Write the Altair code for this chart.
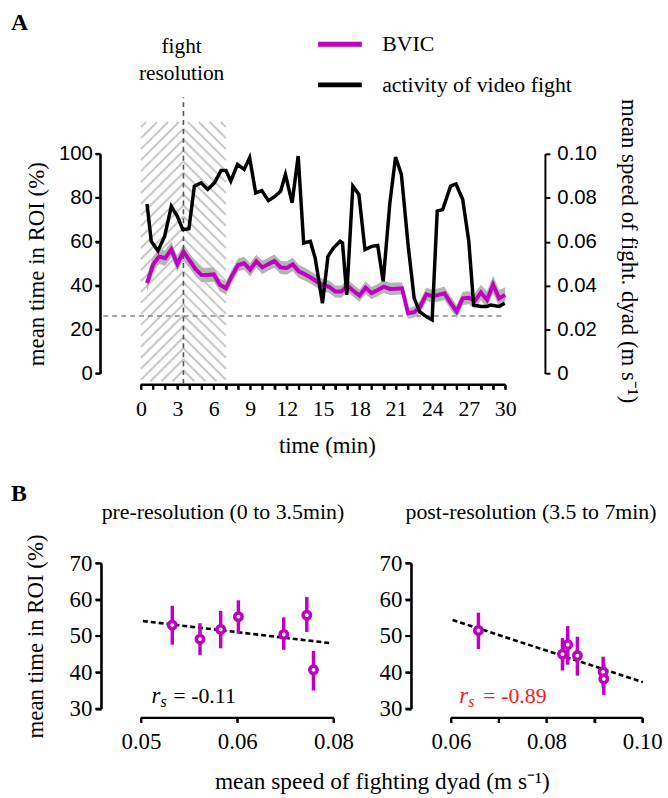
import altair as alt
import pandas as pd

# ---------------- Panel A data ----------------
bvic_time = [0.5, 1.0, 1.5, 2.0, 2.5, 3.0, 3.5, 4.0, 4.5, 5.0,
             5.5, 6.0, 6.5, 7.0, 7.5, 8.0, 8.5, 9.0, 9.5, 10.0,
             10.5, 11.0, 11.5, 12.0, 12.5, 13.0, 13.5, 14.0, 14.5, 15.0,
             15.5, 16.0, 16.5, 17.0, 17.5, 18.0, 18.5, 19.0, 19.5, 20.0,
             20.5, 21.0, 21.5, 22.0, 22.5, 23.0, 23.5, 24.0, 24.5, 25.0,
             25.5, 26.0, 26.5, 27.0, 27.5, 28.0, 28.5, 29.0, 29.5, 30.0]
bvic_mean = [41.1, 49.5, 53.3, 52.5, 56.5, 49.8, 55.5, 51.5, 47.5, 44.8,
             44.9, 45.1, 40.4, 38.8, 44.5, 49.4, 50.2, 47.2, 51.1, 48.3,
             49.8, 51.2, 48.3, 48.0, 49.7, 46.5, 45.2, 43.6, 41.8, 40.2,
             39.5, 37.3, 37.3, 40.0, 37.6, 35.5, 39.1, 36.6, 38.0, 39.5,
             38.5, 38.6, 38.8, 27.4, 27.9, 30.4, 36.0, 35.2, 35.8, 36.5,
             32.2, 28.2, 34.2, 34.5, 33.0, 36.9, 33.5, 40.5, 34.2, 35.8]
bvic_sem = [3.5, 3.5, 3.5, 3.5, 3.5, 3.5, 3.5, 3.3, 3.3, 3.3,
            3.3, 3.3, 3.0, 3.0, 3.0, 3.0, 3.0, 3.0, 3.0, 3.0,
            3.0, 3.0, 3.0, 3.0, 3.0, 3.0, 3.0, 2.8, 2.8, 2.8,
            2.8, 2.8, 2.8, 2.8, 2.8, 2.8, 2.8, 2.8, 2.8, 2.8,
            2.8, 2.8, 2.8, 2.5, 2.5, 2.8, 3.0, 3.0, 3.0, 3.0,
            3.0, 3.0, 3.0, 3.0, 3.5, 3.5, 3.8, 4.0, 3.8, 3.5]

fight_time = [0.5, 0.85, 1.4, 1.95, 2.5, 3.0, 3.45, 3.95, 4.4, 4.95,
              5.5, 6.05, 6.6, 7.0, 7.4, 7.95, 8.5, 8.95, 9.45, 9.95,
              10.5, 11.0, 11.5, 11.9, 12.45, 12.95, 13.4, 13.95, 14.35, 14.95,
              15.4, 15.85, 16.4, 16.6, 16.95, 17.45, 17.95, 18.45, 19.0, 19.5,
              19.95, 20.5, 20.97, 21.45, 22.0, 22.5, 22.95, 23.5, 23.98, 24.4,
              24.85, 25.5, 25.95, 26.5, 27.0, 27.4, 28.0, 28.5, 28.8, 29.5, 29.95]
fight_speed = [0.0772, 0.0602, 0.0559, 0.0624, 0.0761, 0.0716, 0.0655, 0.0659, 0.0853, 0.0868,
               0.0838, 0.0868, 0.0924, 0.0924, 0.0876, 0.0952, 0.0929, 0.0982, 0.0822, 0.0833,
               0.0787, 0.0805, 0.0830, 0.0906, 0.0777, 0.0990, 0.0594, 0.0602, 0.0525, 0.0320,
               0.0533, 0.0571, 0.0602, 0.0594, 0.0358, 0.0853, 0.0815, 0.0564, 0.0579, 0.0583,
               0.0419, 0.0777, 0.0985, 0.0906, 0.0586, 0.0343, 0.0282, 0.0259, 0.0244, 0.0739,
               0.0746, 0.0853, 0.0863, 0.0792, 0.0602, 0.0312, 0.0305, 0.0305, 0.0312, 0.0305, 0.0320]

fight_resolution_min = 3.5
hatch_start_min = 0.0
hatch_end_min = 7.0
baseline_pct = 26.2
series_names = ["BVIC", "activity of video fight"]

time_ticks = list(range(0, 31))
left_ticks = [0, 20, 40, 60, 80, 100]
right_ticks = [0, 0.02, 0.04, 0.06, 0.08, 0.1]

# ---------------- Panel B data ----------------
pre_speed = [0.05488, 0.0592, 0.06242, 0.06518, 0.07225, 0.07584, 0.07688]
pre_mean = [53.0, 49.1, 51.8, 55.3, 50.4, 55.7, 40.7]
pre_lo = [47.6, 44.8, 46.6, 50.7, 46.2, 51.1, 35.0]
pre_hi = [58.3, 53.5, 56.9, 59.8, 55.1, 60.7, 45.9]
pre_fit_x = [0.0503, 0.0796]
pre_fit_y = [54.1, 48.0]

post_speed = [0.06575, 0.08333, 0.08443, 0.08645, 0.09184, 0.09197]
post_mean = [51.5, 45.0, 47.6, 44.6, 40.1, 38.2]
post_lo = [46.4, 40.5, 42.1, 39.1, 35.8, 33.8]
post_hi = [56.4, 49.4, 52.7, 49.8, 44.3, 42.6]
post_fit_x = [0.06035, 0.10015]
post_fit_y = [54.4, 37.3]

pre_ticks = [0.05, 0.065, 0.08]
post_ticks = [0.06, 0.07, 0.08, 0.09, 0.10]
roi_ticks = [30, 40, 50, 60, 70]

pre_title = "pre-resolution (0 to 3.5min)"
post_title = "post-resolution (3.5 to 7min)"
pre_rs = "= -0.11"
post_rs = "= -0.89"

# ---------------- styles ----------------
SERIF = "Liberation Serif"
SANS = "Liberation Sans"
PURPLE = "#c000c0"
RED = "#ee2222"
TOP_W, TOP_H = 367, 221.3
BOT_H = 146.6

common_axis = dict(grid=False, domain=True, ticks=True, domainColor="black", domainWidth=2,
                   tickColor="black", tickWidth=2, labelColor="black", titleColor="black",
                   titleFontWeight="normal", labelFlush=False, labelOverlap=False)

# ---------------- Panel A ----------------
bvic_df = pd.DataFrame({"t": bvic_time, "v": bvic_mean, "sem": bvic_sem})
bvic_df["lo"] = bvic_df["v"] - bvic_df["sem"]
bvic_df["hi"] = bvic_df["v"] + bvic_df["sem"]
bvic_df["series"] = series_names[0]
fight_df = pd.DataFrame({"t": fight_time, "s": fight_speed})
fight_df["series"] = series_names[1]

# hatch pattern (decorative chevrons) over the fight window
def hatch_segments(bottom=-3.5, top=114.5, k=5.53, step=5.0):
    rows = []
    half = fight_resolution_min - hatch_start_min
    c = bottom - k * half
    while c < top:
        xa = max(0.0, (bottom - c) / k)
        xb = min(half, (top - c) / k)
        if xb > xa:
            ya, yb = c + k * xa, c + k * xb
            rows.append((hatch_start_min + xa, ya, hatch_start_min + xb, yb))
            rows.append((hatch_end_min - xa, ya, hatch_end_min - xb, yb))
        c += step
    return pd.DataFrame(rows, columns=["x1", "y1", "x2", "y2"])

hatch_df = hatch_segments()

X_DOM_TOP = [0, 30]
Y_DOM_LEFT = [0, 100]
Y_DOM_RIGHT = [0, 0.1]

x_axis_top = alt.Axis(orient="bottom", values=time_ticks,
                      labelExpr="datum.value % 3 == 0 ? datum.label : ''",
                      title="time (min)", titleFont=SERIF, titleFontSize=23,
                      titleX=187.3, titleY=68.2, titleBaseline="alphabetic",
                      labelFont=SERIF, labelFontSize=22, labelPadding=9,
                      tickSize=5, offset=11, **common_axis)
y_axis_left = alt.Axis(orient="left", values=left_ticks, title="mean time in ROI (%)",
                       titleFont=SERIF, titleFontSize=23, titlePadding=9.5,
                       labelFont=SANS, labelFontSize=20.5, labelPadding=3,
                       tickSize=5, offset=41, **common_axis)
y_axis_right = alt.Axis(orient="right", values=right_ticks,
                        labelExpr="datum.value == 0 ? '0' : format(datum.value, '.2f')",
                        title="mean speed of fight. dyad (m s\u207b\u00b9)",
                        titleFont=SERIF, titleFontSize=23, titlePadding=20, titleY=97.5,
                        labelFont=SANS, labelFontSize=20.5, labelPadding=7,
                        tickSize=5, offset=40, **common_axis)

color_scale = alt.Scale(domain=series_names, range=[PURPLE, "black"])
legend = alt.Legend(title=None, orient="none", legendX=187, legendY=-124,
                    symbolType="M-2,0H2", symbolSize=484, symbolStrokeWidth=5,
                    labelFont=SERIF, labelFontSize=22, labelColor="black", labelLimit=400,
                    labelOffset=29, rowPadding=16, padding=0)

XT = lambda f: alt.X(f, scale=alt.Scale(domain=X_DOM_TOP, nice=False), axis=None)
YL = lambda f: alt.Y(f, scale=alt.Scale(domain=Y_DOM_LEFT, nice=False), axis=None)

axis_carrier = alt.Chart(bvic_df).mark_point(opacity=0).encode(
    x=alt.X("t:Q", scale=alt.Scale(domain=X_DOM_TOP, nice=False), axis=x_axis_top),
    y=alt.Y("v:Q", scale=alt.Scale(domain=Y_DOM_LEFT, nice=False), axis=y_axis_left))

# axis lines and tick marks drawn as rules (offsets in pixels converted to data units)
ppx_top = TOP_W / (X_DOM_TOP[1] - X_DOM_TOP[0])
ppy_top = TOP_H / (Y_DOM_LEFT[1] - Y_DOM_LEFT[0])
xa_y = -11 / ppy_top
xa_tick = xa_y - 5 / ppy_top
ya_x = -41 / ppx_top
ya_tick = ya_x - 5 / ppx_top
axis_rules_top = pd.concat([
    pd.DataFrame({"x1": [X_DOM_TOP[0]], "x2": [X_DOM_TOP[1]], "y1": [xa_y], "y2": [xa_y]}),
    pd.DataFrame({"x1": time_ticks, "x2": time_ticks,
                  "y1": [xa_y] * len(time_ticks), "y2": [xa_tick] * len(time_ticks)}),
    pd.DataFrame({"x1": [ya_x], "x2": [ya_x], "y1": [Y_DOM_LEFT[0]], "y2": [Y_DOM_LEFT[1]]}),
    pd.DataFrame({"x1": [ya_x] * len(left_ticks), "x2": [ya_tick] * len(left_ticks),
                  "y1": left_ticks, "y2": left_ticks}),
], ignore_index=True)
axes_top = alt.Chart(axis_rules_top).mark_rule(color="black", strokeWidth=2, clip=False).encode(
    x=XT("x1:Q"), x2="x2:Q", y=YL("y1:Q"), y2="y2:Q")

hatch = alt.Chart(hatch_df).mark_rule(color="#c8c8c8", strokeWidth=2, clip=False).encode(
    x=XT("x1:Q"), x2="x2:Q", y=YL("y1:Q"), y2="y2:Q")

hline = alt.Chart(pd.DataFrame({"x1": [-3.1], "x2": [30], "y": [baseline_pct]})).mark_rule(
    color="#888888", strokeWidth=1.4, strokeDash=[5, 4], clip=False).encode(
    x=XT("x1:Q"), x2="x2:Q", y=YL("y:Q"))

vline = alt.Chart(pd.DataFrame({"x": [fight_resolution_min], "y1": [-4.8], "y2": [125.8]})).mark_rule(
    color="#555555", strokeWidth=1.6, strokeDash=[5, 4], clip=False).encode(
    x=XT("x:Q"), y=YL("y1:Q"), y2="y2:Q")

band = alt.Chart(bvic_df).mark_area(color="#b4b4b4", opacity=1).encode(
    x=XT("t:Q"), y=YL("lo:Q"), y2="hi:Q")

bvic_line = alt.Chart(bvic_df).mark_line(strokeWidth=4).encode(
    x=XT("t:Q"), y=YL("v:Q"),
    color=alt.Color("series:N", scale=color_scale, legend=legend))

label_df = pd.DataFrame({"t": [3.35], "v": [145.8], "txt": [["fight", "resolution"]]})
fight_label = alt.Chart(label_df).mark_text(font=SERIF, fontSize=21.5, align="center",
                                            baseline="alphabetic", lineHeight=26.6,
                                            color="black").encode(
    x=XT("t:Q"), y=YL("v:Q"), text="txt")

a_label = alt.Chart(pd.DataFrame({"t": [-10.71], "v": [156.5], "txt": ["A"]})).mark_text(
    font=SERIF, fontSize=24, fontWeight="bold", align="left", baseline="alphabetic",
    color="black").encode(x=XT("t:Q"), y=YL("v:Q"), text="txt")

fight_line = alt.Chart(fight_df).mark_line(strokeWidth=3.5).encode(
    x=XT("t:Q"),
    y=alt.Y("s:Q", scale=alt.Scale(domain=Y_DOM_RIGHT, nice=False), axis=y_axis_right),
    color=alt.Color("series:N", scale=color_scale, legend=legend))

top = alt.layer(axis_carrier, axes_top, hatch, hline, band, bvic_line, vline, fight_label,
                a_label, fight_line).resolve_scale(x="independent", y="independent").properties(
    width=TOP_W, height=TOP_H)

# ---------------- Panel B ----------------
def scatter_panel(speed, mean, lo, hi, fit_x, fit_y, xdomain, xvalues, xlabel_expr,
                  width, show_y_title, x_title, title_text, title_x, rs_x, rs_text, rs_dx,
                  rs_color, panel_label):
    ydomain = [30, 70]
    pts = pd.DataFrame({"x": speed, "m": mean, "lo": lo, "hi": hi})
    fit = pd.DataFrame({"x": fit_x, "y": fit_y})
    xaxis_kwargs = dict(orient="bottom", values=xvalues, labelExpr=xlabel_expr, labelFont=SERIF,
                        labelFontSize=23, labelPadding=7.8, tickSize=5, offset=9,
                        **common_axis)
    if x_title:
        xaxis = alt.Axis(title=x_title, titleFont=SERIF, titleFontSize=23.5,
                         titleX=242.7, titleY=71.7, titleBaseline="alphabetic", **xaxis_kwargs)
    else:
        xaxis = alt.Axis(title=None, **xaxis_kwargs)
    yaxis_kwargs = dict(orient="left", values=roi_ticks, labelFont=SERIF,
                        labelFontSize=23, labelPadding=3.4, tickSize=6, offset=40,
                        **common_axis)
    if show_y_title:
        yaxis = alt.Axis(title="mean time in ROI (%)", titleFont=SERIF, titleFontSize=23,
                         titlePadding=22, **yaxis_kwargs)
    else:
        yaxis = alt.Axis(title=None, **yaxis_kwargs)
    X = lambda f: alt.X(f, scale=alt.Scale(domain=xdomain, nice=False), axis=None)
    Y = lambda f: alt.Y(f, scale=alt.Scale(domain=ydomain, nice=False), axis=None)

    carrier = alt.Chart(pts).mark_point(opacity=0).encode(
        x=alt.X("x:Q", scale=alt.Scale(domain=xdomain, nice=False), axis=xaxis),
        y=alt.Y("m:Q", scale=alt.Scale(domain=ydomain, nice=False), axis=yaxis))

    ppx = width / (xdomain[1] - xdomain[0])
    ppy = BOT_H / (ydomain[1] - ydomain[0])
    bx_y = ydomain[0] - 9 / ppy
    bx_tick = bx_y - 5 / ppy
    by_x = xdomain[0] - 40 / ppx
    by_tick = by_x - 6 / ppx
    rules = pd.concat([
        pd.DataFrame({"x1": [xdomain[0]], "x2": [xdomain[1]], "y1": [bx_y], "y2": [bx_y]}),
        pd.DataFrame({"x1": xvalues, "x2": xvalues,
                      "y1": [bx_y] * len(xvalues), "y2": [bx_tick] * len(xvalues)}),
        pd.DataFrame({"x1": [by_x], "x2": [by_x], "y1": [ydomain[0]], "y2": [ydomain[1]]}),
        pd.DataFrame({"x1": [by_x] * len(roi_ticks), "x2": [by_tick] * len(roi_ticks),
                      "y1": roi_ticks, "y2": roi_ticks}),
    ], ignore_index=True)
    axes = alt.Chart(rules).mark_rule(color="black", strokeWidth=2, clip=False).encode(
        x=X("x1:Q"), x2="x2:Q", y=Y("y1:Q"), y2="y2:Q")

    fit_line = alt.Chart(fit).mark_line(color="black", strokeWidth=2.6,
                                        strokeDash=[5, 3]).encode(x=X("x:Q"), y=Y("y:Q"))
    bars = alt.Chart(pts).mark_rule(color=PURPLE, strokeWidth=3.5).encode(
        x=X("x:Q"), y=Y("lo:Q"), y2="hi:Q")
    dots = alt.Chart(pts).mark_point(shape="circle", size=55, fill="white", fillOpacity=1,
                                     stroke=PURPLE, strokeWidth=3.6, opacity=1).encode(
        x=X("x:Q"), y=Y("m:Q"))
    tdf = pd.DataFrame({"x": [rs_x], "y": [31.47]})
    r_txt = alt.Chart(tdf).mark_text(text="r", font=SERIF, fontStyle="italic", fontSize=23,
                                     align="left", baseline="alphabetic", color=rs_color).encode(
        x=X("x:Q"), y=Y("y:Q"))
    s_txt = alt.Chart(tdf).mark_text(text="s", font=SERIF, fontStyle="italic", fontSize=16,
                                     align="left", baseline="alphabetic", dx=9, dy=4,
                                     color=rs_color).encode(x=X("x:Q"), y=Y("y:Q"))
    v_txt = alt.Chart(tdf).mark_text(text=rs_text, font=SERIF, fontSize=22,
                                     align="left", baseline="alphabetic", dx=rs_dx,
                                     color=rs_color).encode(x=X("x:Q"), y=Y("y:Q"))
    ttl = alt.Chart(pd.DataFrame({"x": [title_x], "y": [82.2], "txt": [title_text]})).mark_text(
        font=SERIF, fontSize=22, align="center", baseline="alphabetic", color="black").encode(
        x=X("x:Q"), y=Y("y:Q"), text="txt")
    layers = [carrier, axes, fit_line, bars, dots, r_txt, s_txt, v_txt, ttl]
    if panel_label:
        lbl = alt.Chart(pd.DataFrame({"x": [xdomain[0] - 131.0 / ppx],
                                      "y": [87.1], "txt": [panel_label]})).mark_text(
            font=SERIF, fontSize=24, fontWeight="bold", align="left", baseline="alphabetic",
            color="black").encode(x=X("x:Q"), y=Y("y:Q"), text="txt")
        layers.append(lbl)
    return alt.layer(*layers).resolve_scale(x="independent", y="independent").properties(
        width=width, height=BOT_H)

bl = scatter_panel(pre_speed, pre_mean, pre_lo, pre_hi, pre_fit_x, pre_fit_y,
                   [0.05, 0.08], pre_ticks,
                   "datum.value < 0.055 ? '0.05' : datum.value < 0.07 ? '0.06' : '0.08'",
                   194, True, "mean speed of fighting dyad (m s\u207b\u00b9)",
                   pre_title, 0.06277, 0.05165, pre_rs, 22, "black", "B")
br = scatter_panel(post_speed, post_mean, post_lo, post_hi, post_fit_x, post_fit_y,
                   [0.06, 0.10], post_ticks,
                   "round(datum.value * 100) % 2 == 0 ? format(datum.value, '.2f') : ''",
                   192.7, False, None,
                   post_title, 0.07675, 0.06174, post_rs, 24.3, RED, None)

bottom = alt.HConcatChart(hconcat=[bl, br], spacing=118.3, bounds="flush")

chart = alt.VConcatChart(vconcat=[top, bottom], spacing=190.4, bounds="flush").properties(
    padding={"left": 10, "top": 7, "right": 5, "bottom": 5}, background="white"
).configure_view(strokeWidth=0).configure_axis(
    domain=True, ticks=True, domainColor="black", domainWidth=2,
    tickColor="black", tickWidth=2)

chart.save("out.html", embed_options={"renderer": "svg", "actions": False})
